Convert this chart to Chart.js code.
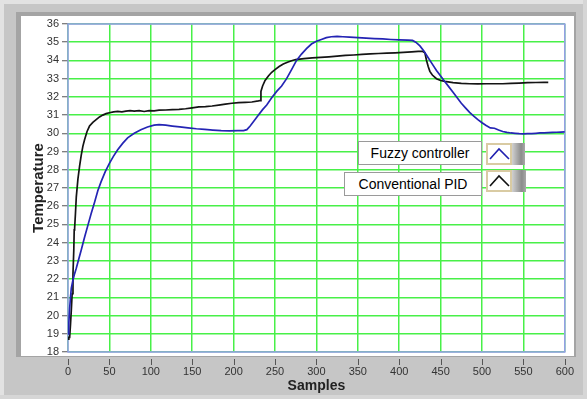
<!DOCTYPE html>
<html>
<head>
<meta charset="utf-8">
<script src="https://cdn.jsdelivr.net/npm/chart.js@4.4.1/dist/chart.umd.min.js"></script>
<style>
  html,body{margin:0;padding:0;background:#c8c8c8;}
  #wrap{position:relative;width:587px;height:399px;overflow:hidden;font-family:"Liberation Sans",Arial,sans-serif;}
  canvas{position:absolute;left:0;top:0;}
  .lbl{position:absolute;background:#fff;border:1px solid #9a9a9a;box-sizing:border-box;font-size:14px;color:#000;line-height:22px;text-align:center;}
  .ico{position:absolute;box-sizing:border-box;border:2px solid #d9cba3;background:#fff;}
  .grad{position:absolute;background:linear-gradient(to right,#d0d0d0,#8c8c8c 70%,#a8a8a8);}
</style>
</head>
<body>
<div id="wrap">
  <canvas id="c" width="587" height="399"></canvas>
  <div class="lbl" style="left:358px;top:141px;width:124px;height:24px;">Fuzzy controller</div>
  <div class="ico" style="left:486px;top:143px;width:26px;height:22px;">
    <svg width="22" height="18" style="position:absolute;left:0;top:0"><polyline points="2,14 11,4 21,14" fill="none" stroke="#2020b0" stroke-width="1.6"/></svg>
  </div>
  <div class="grad" style="left:512px;top:143px;width:13px;height:22px;"></div>
  <div class="lbl" style="left:344px;top:172px;width:138px;height:24px;">Conventional PID</div>
  <div class="ico" style="left:486px;top:170px;width:26px;height:22px;">
    <svg width="22" height="18" style="position:absolute;left:0;top:0"><polyline points="2,14 11,4 21,14" fill="none" stroke="#111" stroke-width="1.6"/></svg>
  </div>
  <div class="grad" style="left:512px;top:170px;width:14px;height:22px;"></div>
</div>
<script>
// ---- data ----
const fuzzyX = [0,1,2,3,4,6,8,10,13,16,20,24,28,32,36,40,45,50,55,60,66,72,80,88,96,104,110,118,126,135,145,155,165,175,185,195,205,212,216,220,225,230,235,240,246,252,258,264,270,276,282,288,294,300,306,312,318,325,332,340,350,360,370,380,390,400,410,416,420,425,430,435,440,445,450,455,460,465,470,475,480,485,490,495,500,505,510,515,520,525,530,535,540,545,550,555,560,565,570,575,580,585,590,595,600];
const fuzzyT = [19.0,19.6,20.4,21.0,21.5,21.95,22.3,22.6,23.1,23.6,24.3,24.95,25.6,26.2,26.85,27.35,27.9,28.35,28.75,29.1,29.45,29.75,30.0,30.2,30.35,30.45,30.48,30.45,30.4,30.35,30.3,30.25,30.22,30.18,30.15,30.14,30.15,30.15,30.2,30.4,30.7,31.0,31.3,31.55,31.95,32.3,32.6,33.0,33.5,34.0,34.35,34.65,34.9,35.05,35.15,35.25,35.3,35.32,35.3,35.28,35.25,35.22,35.2,35.18,35.15,35.13,35.12,35.1,35.0,34.8,34.5,34.15,33.8,33.45,33.15,32.85,32.55,32.25,31.95,31.65,31.4,31.15,30.95,30.75,30.58,30.43,30.3,30.28,30.18,30.1,30.05,30.02,30.0,29.98,29.97,29.98,29.98,30.0,30.02,30.03,30.04,30.05,30.06,30.07,30.08];

const pidX = [0,1,2,3,4,5,6,7,7.5,8,9,10,12,14,16,18,20,23,26,30,34,38,42,46,50,55,60,65,70,75,80,86,92,98,104,110,118,126,134,142,150,158,166,174,182,190,198,206,214,222,230,232,233,235,238,242,246,250,255,260,265,270,275,285,295,305,315,325,335,345,355,365,375,385,395,405,415,423,428,431,433,435,437,440,445,450,455,465,475,485,495,505,515,525,535,545,555,565,575,580];
const pidT = [18.7,18.8,18.8,19.5,20.3,21.2,22.3,23.6,24.7,24.8,25.6,26.5,27.5,28.2,28.8,29.3,29.65,30.1,30.4,30.6,30.75,30.9,31.0,31.08,31.13,31.18,31.2,31.18,31.22,31.25,31.22,31.25,31.2,31.25,31.23,31.27,31.28,31.3,31.32,31.35,31.4,31.45,31.47,31.5,31.55,31.6,31.65,31.68,31.7,31.72,31.78,31.8,32.3,32.6,32.9,33.15,33.35,33.5,33.67,33.8,33.9,33.98,34.05,34.1,34.14,34.17,34.2,34.24,34.28,34.3,34.33,34.36,34.38,34.4,34.42,34.44,34.47,34.5,34.5,34.42,34.0,33.67,33.4,33.2,33.0,32.9,32.85,32.78,32.74,32.72,32.71,32.72,32.72,32.72,32.74,32.76,32.78,32.79,32.8,32.8];

const xTicks = [0,50,100,150,200,250,300,350,400,450,500,550,600];
const yTicks = [18,19,20,21,22,23,24,25,26,27,28,29,30,31,32,33,34,35,36];
const seriesNames = ['Fuzzy controller','Conventional PID'];

const toPts = (xs, ys) => xs.map((x, i) => ({x, y: ys[i]}));
const FONT = '"Liberation Sans", Arial, sans-serif';

const framePlugin = {
  id: 'frame',
  beforeDraw(chart) {
    const ctx = chart.ctx;
    ctx.save();
    ctx.fillStyle = '#c6c6c6';
    ctx.fillRect(0, 0, 587, 399);
    ctx.fillStyle = '#e2e2e2';
    ctx.fillRect(0, 0, 587, 4);
    ctx.fillRect(0, 0, 4, 399);
    ctx.fillStyle = '#d6d6d6';
    ctx.fillRect(583, 0, 4, 399);
    ctx.fillRect(0, 395, 587, 4);
    ctx.fillStyle = '#a4a4a4';
    ctx.fillRect(16, 12, 560, 345);
    ctx.fillStyle = '#ffffff';
    ctx.fillRect(21, 16, 553, 340);
    ctx.restore();
  },
  beforeDatasetsDraw(chart) {
    const {ctx, chartArea: a} = chart;
    ctx.save();
    ctx.strokeStyle = '#9a9af0';
    ctx.lineWidth = 1.5;
    ctx.strokeRect(a.left, a.top, a.right - a.left, a.bottom - a.top);
    ctx.restore();
  },
  afterDraw(chart) {
    const ctx = chart.ctx;
    const sx = chart.scales.x;
    ctx.save();
    ctx.strokeStyle = '#555';
    ctx.lineWidth = 1;
    xTicks.forEach(v => {
      const px = Math.round(sx.getPixelForValue(v)) + 0.5;
      ctx.beginPath();
      ctx.moveTo(px, 359);
      ctx.lineTo(px, 365);
      ctx.stroke();
    });
    ctx.restore();
  }
};

new Chart(document.getElementById('c'), {
  type: 'line',
  data: {
    datasets: [
      {label: seriesNames[0], data: toPts(fuzzyX, fuzzyT), borderColor: '#2424b4', borderWidth: 1.7, pointRadius: 0, tension: 0, fill: false},
      {label: seriesNames[1], data: toPts(pidX, pidT), borderColor: '#141414', borderWidth: 1.7, pointRadius: 0, tension: 0, fill: false}
    ]
  },
  options: {
    responsive: false,
    animation: false,
    devicePixelRatio: 1,
    layout: {padding: {left: 0, right: 20, top: 24, bottom: 0}},
    plugins: {legend: {display: false}, tooltip: {enabled: false}},
    scales: {
      x: {
        type: 'linear', min: 0, max: 600,
        afterBuildTicks: s => { s.ticks = xTicks.map(v => ({value: v})); },
        afterFit: s => { s.height = 47; },
        grid: {color: '#48f048', lineWidth: 1.5, drawTicks: false},
        border: {display: false},
        ticks: {padding: 13, color: '#333', font: {family: FONT, size: 11}, maxRotation: 0, autoSkip: false},
        title: {display: true, text: 'Samples', color: '#222', font: {family: FONT, size: 14, weight: 'bold'}, padding: {top: 0, bottom: 4}}
      },
      y: {
        type: 'linear', min: 18, max: 36,
        afterBuildTicks: s => { s.ticks = yTicks.map(v => ({value: v})); },
        afterFit: s => { s.width = 68; },
        grid: {color: '#48f048', lineWidth: 1.5, tickLength: 6, tickColor: '#555', tickWidth: 1},
        border: {display: false},
        ticks: {padding: 3, color: '#333', font: {family: FONT, size: 11}, autoSkip: false},
        title: {display: true, text: 'Temperature', color: '#222', font: {family: FONT, size: 15, weight: 'bold'}, padding: {top: 30, bottom: 0}}
      }
    }
  },
  plugins: [framePlugin]
});
</script>
</body>
</html>
